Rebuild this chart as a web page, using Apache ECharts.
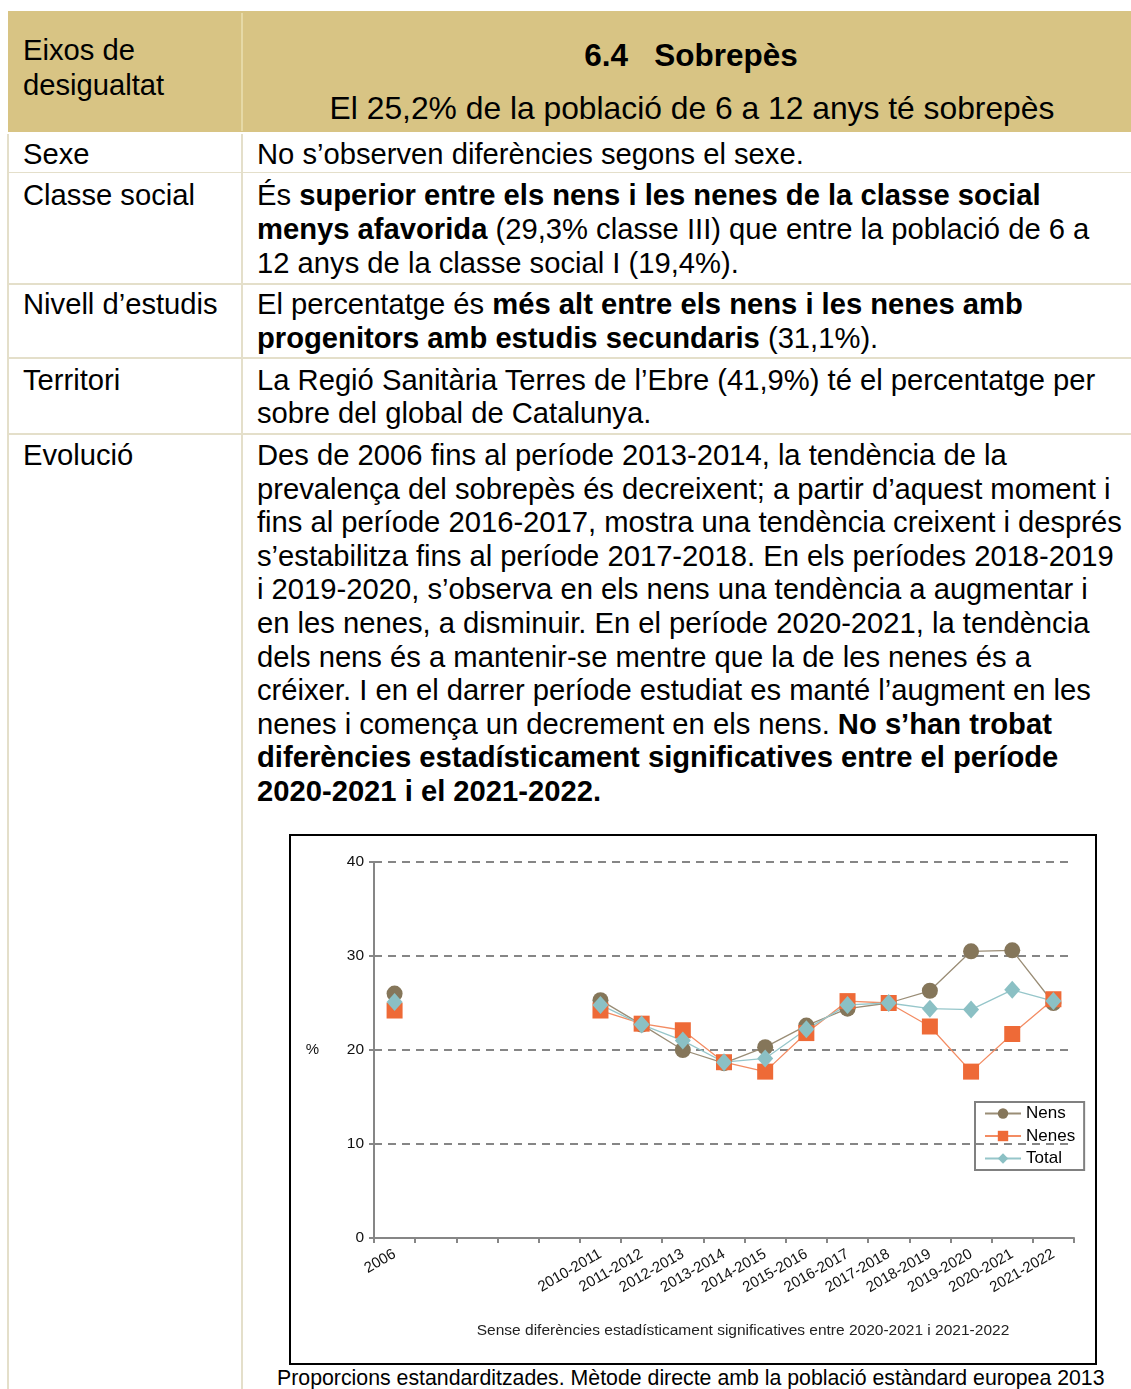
<!DOCTYPE html>
<html>
<head>
<meta charset="utf-8">
<script src="https://cdn.jsdelivr.net/npm/echarts@6/dist/echarts.min.js"></script>
<style>
  body { margin: 0; background: #fff; font-family: "Liberation Sans", Arial, sans-serif; color: #000; }
  .abs { position: absolute; white-space: nowrap; }
  .txt { font-size: 29.2px; line-height: 34px; }
  .hline { position: absolute; height: 2px; background: #e4dfca; }
  .vline { position: absolute; width: 2px; background: #e4dfca; }
</style>
</head>
<body>
<!-- header band -->
<div class="abs" style="left:8px;top:11px;width:1123px;height:121px;background:#d8c484;"></div>
<div class="vline" style="left:241px;top:13px;height:118px;background:#e6d9a6;"></div>
<div class="abs txt" style="left:23px;top:33px;line-height:35px;">Eixos de<br>desigualtat</div>
<div class="abs" style="left:243px;width:896px;top:35px;text-align:center;font-size:31.5px;font-weight:bold;line-height:40px;">6.4&nbsp;&nbsp; Sobrepès</div>
<div class="abs" style="left:243px;width:898px;top:88px;text-align:center;font-size:31.8px;line-height:40px;">El 25,2% de la població de 6 a 12 anys té sobrepès</div>

<!-- table grid -->
<div class="vline" style="left:7px;top:134px;height:1255px;"></div>
<div class="vline" style="left:241px;top:134px;height:1255px;"></div>
<div class="hline" style="left:8px;top:172px;width:1123px;height:1px;"></div>
<div class="hline" style="left:8px;top:283px;width:1123px;"></div>
<div class="hline" style="left:8px;top:357px;width:1123px;"></div>
<div class="hline" style="left:8px;top:433px;width:1123px;"></div>

<!-- rows -->
<div class="abs txt" style="left:23px;top:137px;">Sexe</div>
<div class="abs txt" style="left:257px;top:137px;">No s’observen diferències segons el sexe.</div>

<div class="abs txt" style="left:23px;top:178px;">Classe social</div>
<div class="abs txt" style="left:257px;top:178px;">És <b>superior entre els nens i les nenes de la classe social</b><br><b>menys afavorida</b> (29,3% classe III) que entre la població de 6 a<br>12 anys de la classe social I (19,4%).</div>

<div class="abs txt" style="left:23px;top:287px;">Nivell d’estudis</div>
<div class="abs txt" style="left:257px;top:287px;">El percentatge és <b>més alt entre els nens i les nenes amb</b><br><b>progenitors amb estudis secundaris</b> (31,1%).</div>

<div class="abs txt" style="left:23px;top:364px;line-height:33px;">Territori</div>
<div class="abs txt" style="left:257px;top:364px;line-height:33px;">La Regió Sanitària Terres de l’Ebre (41,9%) té el percentatge per<br>sobre del global de Catalunya.</div>

<div class="abs txt" style="left:23px;top:439px;line-height:33.6px;">Evolució</div>
<div class="abs txt" style="left:257px;top:439px;line-height:33.6px;">Des de 2006 fins al període 2013-2014, la tendència de la<br>prevalença del sobrepès és decreixent; a partir d’aquest moment i<br>fins al període 2016-2017, mostra una tendència creixent i després<br>s’estabilitza fins al període 2017-2018. En els períodes 2018-2019<br>i 2019-2020, s’observa en els nens una tendència a augmentar i<br>en les nenes, a disminuir. En el període 2020-2021, la tendència<br>dels nens és a mantenir-se mentre que la de les nenes és a<br>créixer. I en el darrer període estudiat es manté l’augment en les<br>nenes i comença un decrement en els nens. <b>No s’han trobat</b><br><b>diferències estadísticament significatives entre el període</b><br><b>2020-2021 i el 2021-2022.</b></div>

<!-- chart frame -->
<div class="abs" style="left:289px;top:834px;width:804px;height:527px;border:2px solid #000;background:#fff;"></div>
<div id="chart" class="abs" style="left:291px;top:836px;width:804px;height:527px;"></div>
<div class="abs" style="left:277px;top:1366px;font-size:21.3px;line-height:25px;">Proporcions estandarditzades. Mètode directe amb la població estàndard europea 2013</div>

<script>
var categories = ['2006', '', '', '', '', '2010-2011', '2011-2012', '2012-2013', '2013-2014', '2014-2015',
  '2015-2016', '2016-2017', '2017-2018', '2018-2019', '2019-2020', '2020-2021', '2021-2022'];
var nens = [26.0, null, null, null, null, 25.3, 22.7, 20.0, 18.6, 20.3, 22.6, 24.4, 25.0, 26.3, 30.5, 30.6, 25.0];
var nenes = [24.2, null, null, null, null, 24.2, 22.8, 22.1, 18.7, 17.7, 21.8, 25.2, 25.0, 22.5, 17.7, 21.7, 25.4];
var total = [25.1, null, null, null, null, 24.8, 22.7, 21.0, 18.7, 19.1, 22.2, 24.8, 25.0, 24.4, 24.3, 26.4, 25.2];
var seriesNames = ['Nens', 'Nenes', 'Total'];
var note = 'Sense diferències estadísticament significatives entre 2020-2021 i 2021-2022';

var font = '"Liberation Sans", Arial, sans-serif';
var chart = echarts.init(document.getElementById('chart'), null, {renderer: 'canvas'});

var option = {
  animation: false,
  textStyle: {fontFamily: font},
  grid: {left: 83, top: 26, right: 21, bottom: 125, containLabel: false},
  legend: {
    data: seriesNames,
    orient: 'vertical',
    left: 684,
    top: 266,
    borderColor: '#808080',
    borderWidth: 2,
    padding: [3, 9, 3, 9],
    itemGap: 5.5,
    itemWidth: 36,
    itemHeight: 13,
    textStyle: {fontFamily: font, fontSize: 17, color: '#000'}
  },
  xAxis: {
    type: 'category',
    data: categories,
    boundaryGap: true,
    axisLine: {lineStyle: {color: '#868686', width: 2}},
    axisTick: {show: true, length: 5, interval: 0, lineStyle: {color: '#868686', width: 2}},
    axisLabel: {interval: 0, rotate: 30, margin: 15, fontSize: 15, color: '#111', fontFamily: font},
    splitLine: {show: false}
  },
  yAxis: {
    type: 'value',
    min: 0,
    max: 40,
    interval: 10,
    name: '%',
    nameLocation: 'middle',
    nameRotate: 0,
    nameGap: 55,
    nameTextStyle: {fontSize: 15, color: '#111', fontFamily: font},
    axisLine: {show: true, lineStyle: {color: '#868686', width: 2}},
    axisTick: {show: true, length: 5, lineStyle: {color: '#868686', width: 2}},
    axisLabel: {fontSize: 15.5, color: '#111', margin: 10, fontFamily: font},
    splitLine: {show: true, lineStyle: {color: '#868686', width: 2, type: [8, 6]}}
  },
  graphic: [{
    type: 'text',
    x: 452,
    y: 495,
    style: {text: note, fontSize: 15.5, fill: '#222', fontFamily: font, align: 'center', verticalAlign: 'middle'}
  }],
  series: [
    {
      name: 'Nens', type: 'line', data: nens,
      symbol: 'circle', symbolSize: 16,
      itemStyle: {color: '#85765a'},
      lineStyle: {color: '#9a8d76', width: 1.3}
    },
    {
      name: 'Nenes', type: 'line', data: nenes,
      symbol: 'rect', symbolSize: 16,
      itemStyle: {color: '#ee6a37'},
      lineStyle: {color: '#f38c63', width: 1.3}
    },
    {
      name: 'Total', type: 'line', data: total,
      symbol: 'diamond', symbolSize: [16, 18],
      itemStyle: {color: '#8bc0c4'},
      lineStyle: {color: '#96c6ca', width: 1.3}
    }
  ]
};
chart.setOption(option);
</script>
</body>
</html>
